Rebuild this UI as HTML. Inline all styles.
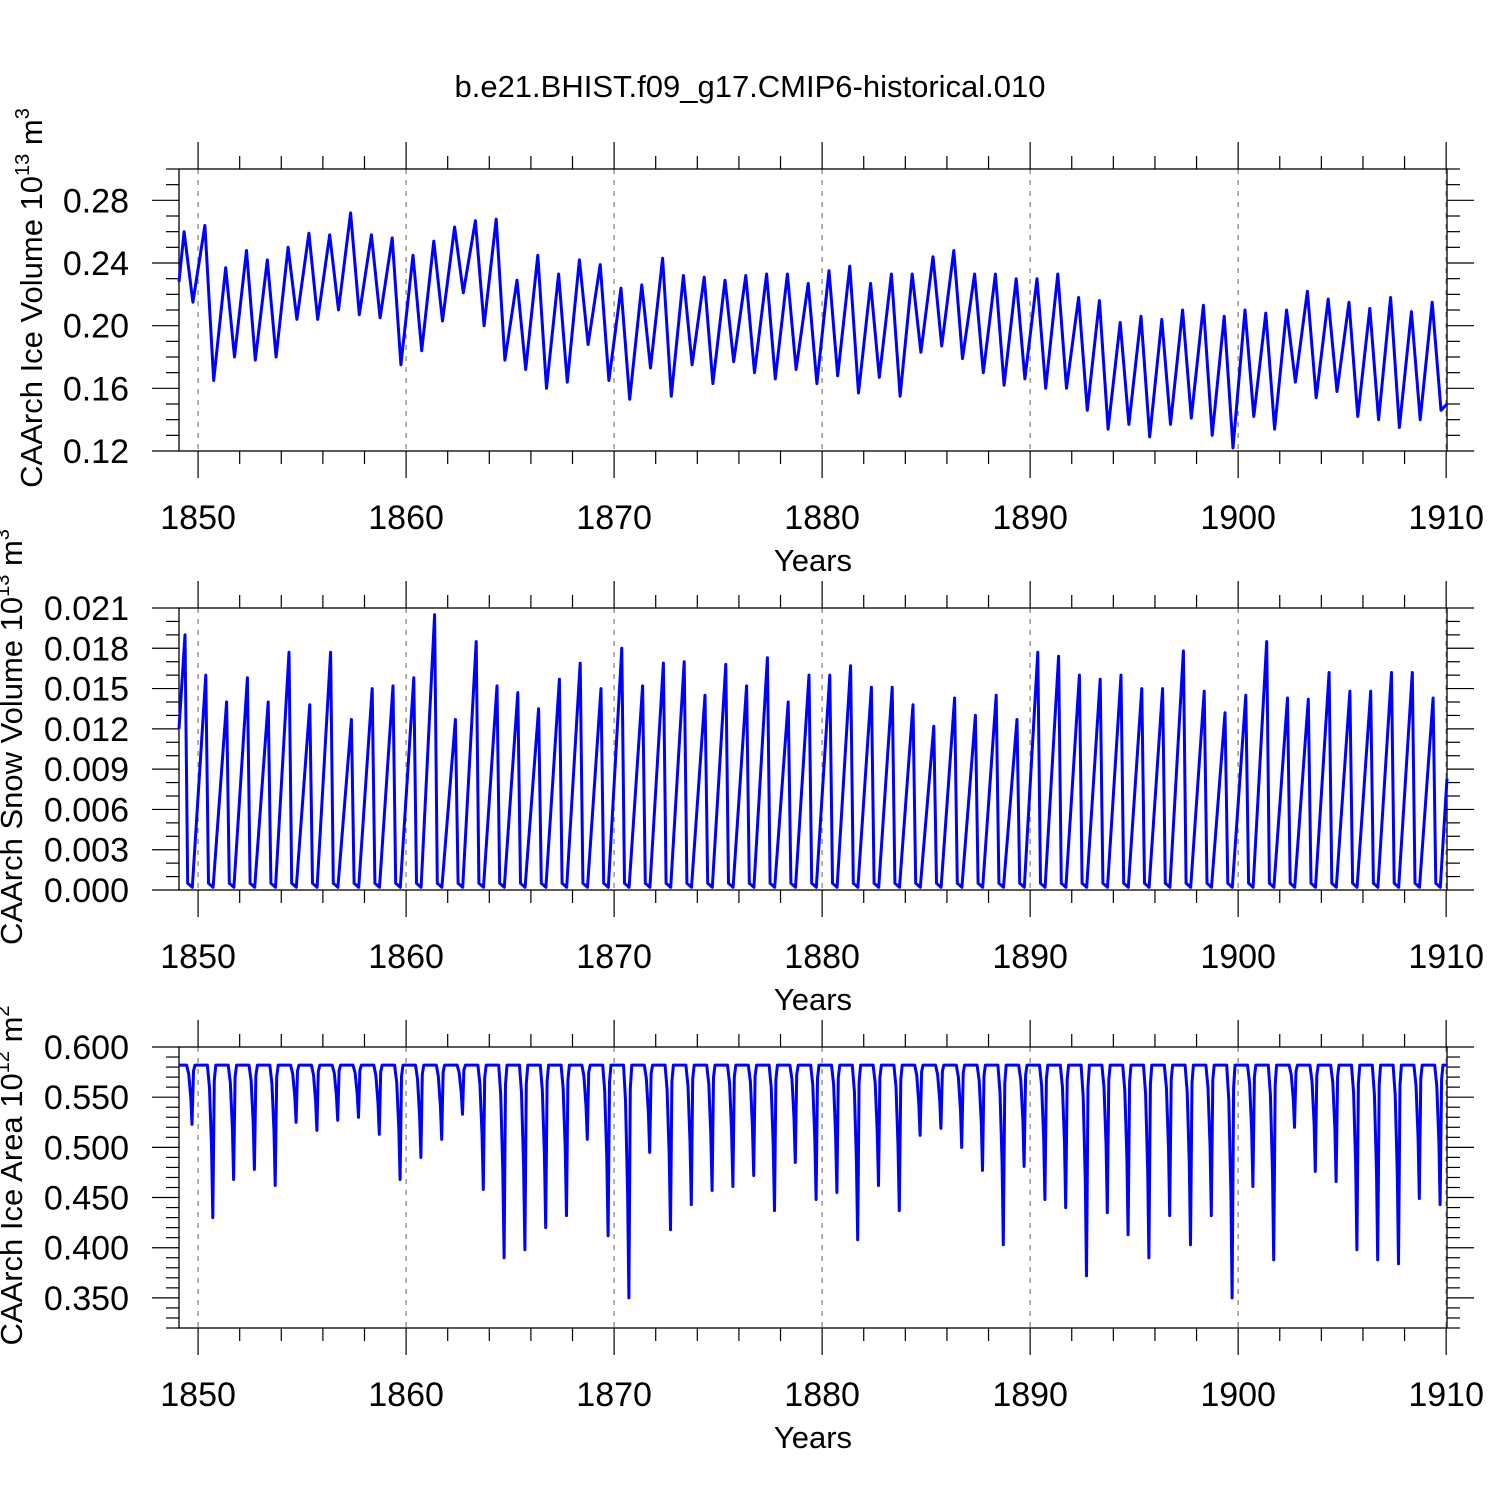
<!DOCTYPE html>
<html><head><meta charset="utf-8"><style>
html,body{margin:0;padding:0;background:#fff;}
svg{display:block;font-family:"Liberation Sans",sans-serif;}
</style></head><body>
<svg id="chart" width="1500" height="1500" viewBox="0 0 1500 1500" xmlns="http://www.w3.org/2000/svg">
<rect width="1500" height="1500" fill="#fff"/>
<text x="750" y="97" font-size="31" text-anchor="middle">b.e21.BHIST.f09_g17.CMIP6-historical.010</text>
</svg>
<script>
// ---- Data ----
const years = [];
for (let y = 1849; y <= 1909; y++) years.push(y);
const decadeTicks = [1850, 1860, 1870, 1880, 1890, 1900, 1910];

const icePeaks = [0.260,0.264,0.237,0.248,0.242,0.250,0.259,0.258,0.272,0.258,0.256,0.245,0.254,0.263,0.267,0.268,0.229,0.245,0.233,0.242,0.239,0.224,0.226,0.243,0.232,0.231,0.229,0.232,0.233,0.233,0.227,0.235,0.238,0.227,0.233,0.233,0.244,0.248,0.233,0.233,0.230,0.230,0.233,0.218,0.216,0.202,0.206,0.204,0.210,0.213,0.206,0.210,0.208,0.210,0.222,0.217,0.215,0.211,0.218,0.209,0.215];
const iceTroughs = [0.215,0.165,0.180,0.178,0.180,0.204,0.204,0.210,0.207,0.205,0.175,0.184,0.203,0.221,0.200,0.178,0.172,0.160,0.164,0.188,0.165,0.153,0.173,0.155,0.175,0.163,0.177,0.170,0.166,0.172,0.163,0.168,0.157,0.167,0.155,0.183,0.187,0.179,0.170,0.162,0.166,0.160,0.160,0.146,0.134,0.137,0.129,0.137,0.141,0.130,0.122,0.142,0.134,0.164,0.154,0.158,0.142,0.140,0.135,0.140,0.146];
const iceStart = 0.228, iceEnd = 0.150;

const snowPeaks = [0.0190,0.0160,0.0140,0.0158,0.0140,0.0177,0.0138,0.0177,0.0127,0.0150,0.0152,0.0158,0.0205,0.0127,0.0185,0.0152,0.0147,0.0135,0.0157,0.0169,0.0150,0.0180,0.0152,0.0169,0.0170,0.0145,0.0168,0.0152,0.0173,0.0140,0.0160,0.0160,0.0167,0.0151,0.0151,0.0138,0.0122,0.0143,0.0130,0.0145,0.0127,0.0177,0.0174,0.0160,0.0157,0.0160,0.0150,0.0150,0.0178,0.0148,0.0132,0.0145,0.0185,0.0143,0.0142,0.0162,0.0148,0.0148,0.0162,0.0162,0.0143];
const snowStart = 0.0120, snowEnd = 0.0083;

const areaDips = [0.523,0.430,0.468,0.478,0.462,0.525,0.517,0.527,0.530,0.513,0.468,0.490,0.508,0.533,0.458,0.390,0.398,0.420,0.432,0.508,0.412,0.350,0.495,0.418,0.443,0.457,0.461,0.472,0.437,0.485,0.448,0.455,0.408,0.462,0.437,0.512,0.519,0.500,0.477,0.403,0.481,0.448,0.440,0.372,0.435,0.413,0.390,0.432,0.403,0.432,0.350,0.461,0.388,0.520,0.476,0.466,0.398,0.388,0.384,0.449,0.443];
const areaMax = 0.582;

// ---- Layout ----
const X0 = 179, X1 = 1447, T0 = 1849.083, T1 = 1910.04;
const sx = t => X0 + (t - T0) / (T1 - T0) * (X1 - X0);
const svg = document.getElementById('chart');
const NS = 'http://www.w3.org/2000/svg';
function mk(tag, attrs, parent) {
  const e = document.createElementNS(NS, tag);
  for (const k in attrs) e.setAttribute(k, attrs[k]);
  (parent || svg).appendChild(e);
  return e;
}

function panel(id, top, bot, ymin, ymax, majors, minorStep, fmt, titleParts, titleX, pts) {
  const g = mk('g', {});
  
  
  const sy = v => bot - (v - ymin) / (ymax - ymin) * (bot - top);
  decadeTicks.forEach(d => {
    const x = sx(d);
    if (x > X0 && x < X1) {
      const l = mk('line', {x1:x, x2:x, y1:top, y2:bot, stroke:'#888', 'stroke-width':1.3, 'stroke-dasharray':'5,6'}, g);
      
      
    }
  });
  for (let yr = 1850; yr <= 1910; yr += 2) {
    const x = sx(yr);
    const major = yr % 10 === 0;
    const L = major ? 27 : 13;
    mk('line', {x1:x, x2:x, y1:top, y2:top - L, stroke:'#000', 'stroke-width':1.2}, g);
    mk('line', {x1:x, x2:x, y1:bot, y2:bot + L, stroke:'#000', 'stroke-width':1.2}, g);
    if (major) {
      const t = mk('text', {x:x, y:bot + 78, 'font-size':34, 'text-anchor':'middle'}, g);
      t.textContent = yr;
      
      
    }
  }
  const nMinor = Math.round((ymax - ymin) / minorStep);
  for (let i = 0; i <= nMinor; i++) {
    const v = ymin + i * minorStep;
    const y = sy(v);
    const major = majors.some(m => Math.abs(m - v) < minorStep / 10);
    const L = major ? 27 : 13;
    mk('line', {x1:X0, x2:X0 - L, y1:y, y2:y, stroke:'#000', 'stroke-width':1.2}, g);
    mk('line', {x1:X1, x2:X1 + L, y1:y, y2:y, stroke:'#000', 'stroke-width':1.2}, g);
  }
  majors.forEach(m => {
    const t = mk('text', {x:X0 - 50, y:sy(m) + 12, 'font-size':34, 'text-anchor':'end'}, g);
    t.textContent = fmt(m);
    
    
  });
  const fr = mk('rect', {x:X0, y:top, width:X1 - X0, height:bot - top, fill:'none', stroke:'#000', 'stroke-width':1.3}, g);
  
  
  const xt = mk('text', {x:813, y:bot + 120, 'font-size':31, 'text-anchor':'middle'}, g);
  xt.textContent = 'Years';
  
  
  const cy = (top + bot) / 2 - 12;
  const yt = mk('text', {x:0, y:0, 'font-size':31, 'text-anchor':'middle', transform:`translate(${titleX},${cy}) rotate(-90)`}, g);
  
  
  titleParts.forEach(p => {
    const ts = mk('tspan', p[1] ? {'font-size':20, dy:-13} : {dy: p[2] ? 13 : 0}, yt);
    ts.textContent = p[0];
  });
  const d = pts.map((p, i) => (i ? 'L' : 'M') + sx(p[0]).toFixed(1) + ',' + sy(p[1]).toFixed(1)).join('');
  const path = mk('path', {d:d, fill:'none', stroke:'#0000ff', 'stroke-width':3, 'stroke-linejoin':'round'}, g);
  
  
}

const icePts = [[T0, iceStart]];
years.forEach((y, i) => { icePts.push([y + 0.33, icePeaks[i]]); icePts.push([y + 0.75, iceTroughs[i]]); });
icePts.push([T1, iceEnd]);
panel('ice-volume', 169, 451, 0.12, 0.30, [0.12,0.16,0.20,0.24,0.28], 0.01, v => v.toFixed(2),
  [['CAArch Ice Volume 10'],['13',true],[' m',false,true],['3',true]], 42, icePts);

const snowPts = [[T0, snowStart]];
years.forEach((y, i) => {
  snowPts.push([y + 0.37, snowPeaks[i]]);
  snowPts.push([y + 0.5, 0.0005]);
  snowPts.push([y + 0.72, 0.0002]);
});
snowPts.push([T1, snowEnd]);
panel('snow-volume', 608, 890, 0, 0.021, [0,0.003,0.006,0.009,0.012,0.015,0.018,0.021], 0.001, v => v.toFixed(3),
  [['CAArch Snow Volume 10'],['13',true],[' m',false,true],['3',true]], 22, snowPts);

const areaPts = [[T0, areaMax]];
years.forEach((y, i) => {
  const dip = areaDips[i];
  areaPts.push([y + 0.45, areaMax]);
  areaPts.push([y + 0.55, areaMax - (areaMax - dip) * 0.15]);
  areaPts.push([y + 0.65, areaMax - (areaMax - dip) * 0.55]);
  areaPts.push([y + 0.71, dip]);
  areaPts.push([y + 0.78, areaMax - (areaMax - dip) * 0.1]);
  areaPts.push([y + 0.85, areaMax]);
});
areaPts.push([T1, areaMax]);
panel('ice-area', 1047, 1328, 0.32, 0.60, [0.35,0.40,0.45,0.50,0.55,0.60], 0.01, v => v.toFixed(3),
  [['CAArch Ice Area 10'],['12',true],[' m',false,true],['2',true]], 22, areaPts);
</script>
</body></html>
